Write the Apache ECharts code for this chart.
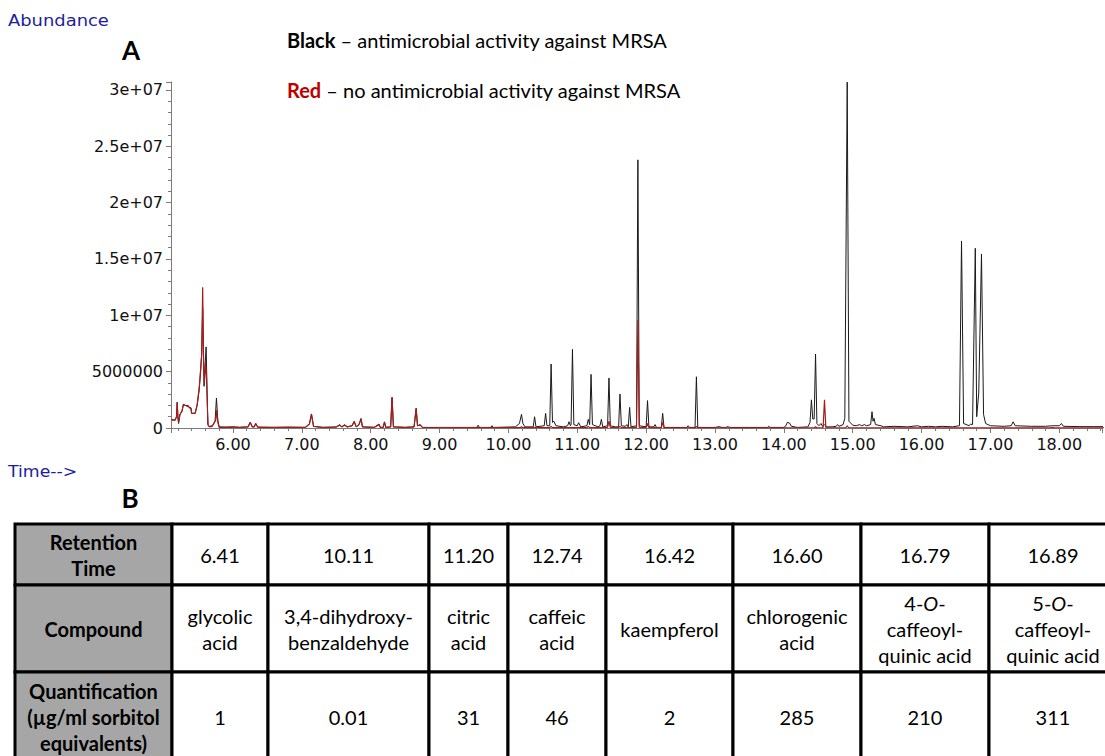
<!DOCTYPE html>
<html><head><meta charset="utf-8">
<script src="https://cdn.jsdelivr.net/npm/echarts@6/dist/echarts.min.js"></script>
<style>html,body{margin:0;padding:0;background:#fff;}#c{width:1105px;height:756px;}</style>
</head><body><div id="c"></div>
<script>
// ---- chromatogram data: [retention time (min), abundance] ----
const blackTrace = [
[5.11,0.75e6],[5.16,0.7e6],[5.18,1.0e6],[5.19,2.3e6],[5.20,1.0e6],[5.21,0.4e6],[5.23,1.2e6],[5.26,1.5e6],[5.28,2.1e6],[5.31,2.0e6],[5.35,2.0e6],[5.37,1.8e6],[5.39,1.8e6],[5.40,1.3e6],[5.45,1.3e6],[5.48,2.0e6],[5.51,3.4e6],[5.53,5.0e6],[5.545,6.6e6],[5.56,10.6e6],[5.57,7.0e6],[5.58,3.7e6],[5.595,5.5e6],[5.61,7.2e6],[5.62,4.5e6],[5.635,0.3e6],[5.66,0.15e6],[5.70,0.2e6],[5.72,0.4e6],[5.74,0.6e6],[5.76,2.65e6],[5.78,0.7e6],[5.80,0.1e6],
[5.9,0.08e6],[6.0,0.1e6],[6.1,0.05e6],[6.22,0.1e6],[6.25,0.5e6],[6.28,0.1e6],[6.31,0.1e6],[6.33,0.4e6],[6.36,0.08e6],[6.6,0.05e6],[6.8,0.08e6],[7.05,0.05e6],[7.11,0.35e6],[7.14,1.25e6],[7.17,0.15e6],[7.3,0.05e6],[7.5,0.1e6],[7.55,0.3e6],[7.58,0.1e6],[7.62,0.3e6],[7.66,0.1e6],[7.73,0.2e6],[7.76,0.6e6],[7.79,0.1e6],[7.83,0.3e6],[7.86,0.85e6],[7.88,0.1e6],[8.05,0.05e6],[8.12,0.35e6],[8.14,0.05e6],[8.18,0.05e6],[8.20,0.55e6],[8.22,0.05e6],[8.29,0.1e6],[8.31,2.7e6],[8.33,0.1e6],[8.5,0.05e6],[8.63,0.1e6],[8.66,1.75e6],[8.68,0.2e6],[8.72,0.3e6],[8.75,0.05e6],[9.2,0.05e6],[9.54,0.05e6],[9.56,0.25e6],[9.58,0.05e6],[9.74,0.05e6],[9.76,0.2e6],[9.78,0.05e6],
[10.1,0.1e6],[10.16,0.4e6],[10.19,1.21e6],[10.21,0.4e6],[10.24,0.1e6],[10.36,0.1e6],[10.38,1.0e6],[10.40,0.1e6],[10.52,0.2e6],[10.54,1.3e6],[10.56,0.2e6],[10.60,0.2e6],[10.62,5.68e6],[10.64,0.5e6],[10.66,0.6e6],[10.69,0.2e6],[10.8,0.1e6],[10.86,0.2e6],[10.88,0.56e6],[10.90,0.2e6],[10.91,0.3e6],[10.93,6.98e6],[10.95,0.3e6],[11.0,0.2e6],[11.02,0.47e6],[11.05,0.1e6],[11.14,0.2e6],[11.16,0.77e6],[11.18,0.3e6],[11.20,4.76e6],[11.22,0.3e6],[11.3,0.1e6],[11.33,0.2e6],[11.35,0.77e6],[11.37,0.1e6],[11.44,0.2e6],[11.46,4.44e6],[11.48,0.2e6],[11.55,0.1e6],[11.60,0.1e6],[11.62,3.02e6],[11.64,0.2e6],[11.70,0.15e6],[11.72,0.3e6],[11.74,0.1e6],[11.76,1.83e6],[11.78,0.1e6],[11.86,0.2e6],[11.88,23.8e6],[11.90,0.2e6],[12.0,0.1e6],[12.02,2.43e6],[12.04,0.1e6],[12.11,0.1e6],[12.13,0.3e6],[12.15,0.05e6],[12.22,0.05e6],[12.24,1.3e6],[12.26,0.05e6],[12.5,0.05e6],[12.59,0.05e6],[12.61,0.2e6],[12.63,0.05e6],[12.71,0.05e6],[12.73,4.55e6],[12.75,0.05e6],[13.0,0.05e6],[13.06,0.12e6],[13.1,0.05e6],[13.16,0.05e6],[13.18,0.12e6],[13.22,0.05e6],[13.5,0.05e6],[13.76,0.05e6],[13.78,0.15e6],[13.80,0.05e6],
[14.0,0.05e6],[14.03,0.2e6],[14.05,0.5e6],[14.08,0.45e6],[14.11,0.15e6],[14.2,0.05e6],[14.35,0.1e6],[14.38,0.5e6],[14.40,2.5e6],[14.42,0.8e6],[14.44,0.8e6],[14.46,6.57e6],[14.48,0.4e6],[14.51,0.2e6],[14.54,0.4e6],[14.56,0.15e6],[14.59,0.3e6],[14.62,0.1e6],[14.7,0.1e6],[14.76,0.15e6],[14.78,0.3e6],[14.80,0.15e6],[14.86,0.3e6],[14.885,0.86e6],[14.92,30.7e6],[14.945,0.6e6],[15.0,0.25e6],[15.05,0.2e6],[15.1,0.3e6],[15.13,0.2e6],[15.17,0.3e6],[15.2,0.2e6],[15.26,0.3e6],[15.28,1.45e6],[15.295,0.6e6],[15.31,0.86e6],[15.33,0.3e6],[15.41,0.2e6],[15.45,0.1e6],[15.6,0.15e6],[15.8,0.1e6],[15.94,0.2e6],[16.0,0.1e6],[16.1,0.15e6],[16.2,0.1e6],[16.3,0.15e6],[16.45,0.1e6],[16.55,0.2e6],[16.58,16.6e6],[16.61,0.4e6],[16.69,0.2e6],[16.71,0.35e6],[16.74,0.3e6],[16.78,15.95e6],[16.80,1.0e6],[16.83,3.1e6],[16.87,15.45e6],[16.90,1.2e6],[16.93,0.4e6],[17.0,0.2e6],[17.2,0.15e6],[17.3,0.2e6],[17.33,0.55e6],[17.36,0.2e6],[17.6,0.15e6],[17.8,0.15e6],[17.9,0.2e6],[18.0,0.2e6],[18.03,0.4e6],[18.06,0.15e6],[18.3,0.12e6],[18.5,0.12e6],[18.65,0.12e6]
];
const redTrace = [
[5.11,0.7e6],[5.16,0.7e6],[5.18,1.0e6],[5.19,2.2e6],[5.20,1.0e6],[5.21,0.5e6],[5.23,1.2e6],[5.26,1.5e6],[5.28,2.1e6],[5.31,2.0e6],[5.35,1.9e6],[5.37,1.8e6],[5.39,1.7e6],[5.40,1.3e6],[5.45,1.3e6],[5.48,2.1e6],[5.51,3.6e6],[5.53,5.2e6],[5.545,6.4e6],[5.56,12.5e6],[5.575,5.0e6],[5.585,4.0e6],[5.60,5.8e6],[5.615,4.5e6],[5.63,1.5e6],[5.64,0.2e6],[5.66,0.1e6],[5.70,0.15e6],[5.73,0.5e6],[5.75,0.7e6],[5.765,1.6e6],[5.78,0.5e6],[5.80,0.05e6],
[5.9,0.06e6],[6.0,0.08e6],[6.1,0.05e6],[6.22,0.1e6],[6.25,0.5e6],[6.28,0.1e6],[6.31,0.1e6],[6.33,0.4e6],[6.36,0.06e6],[6.6,0.05e6],[6.8,0.06e6],[7.05,0.05e6],[7.11,0.35e6],[7.14,1.2e6],[7.17,0.15e6],[7.3,0.05e6],[7.5,0.08e6],[7.55,0.25e6],[7.58,0.1e6],[7.62,0.25e6],[7.66,0.1e6],[7.73,0.2e6],[7.76,0.55e6],[7.79,0.1e6],[7.83,0.3e6],[7.86,0.8e6],[7.88,0.1e6],[8.05,0.05e6],[8.12,0.3e6],[8.14,0.05e6],[8.18,0.05e6],[8.20,0.5e6],[8.22,0.05e6],[8.29,0.1e6],[8.31,2.75e6],[8.33,0.1e6],[8.5,0.05e6],[8.63,0.1e6],[8.66,1.75e6],[8.68,0.2e6],[8.72,0.25e6],[8.75,0.05e6],[9.2,0.04e6],[9.8,0.03e6],
[10.1,0.03e6],[10.17,0.03e6],[10.19,0.12e6],[10.21,0.03e6],[10.6,0.03e6],[10.62,0.15e6],[10.64,0.03e6],[11.14,0.03e6],[11.16,0.15e6],[11.18,0.03e6],[11.44,0.05e6],[11.46,0.6e6],[11.48,0.05e6],[11.60,0.03e6],[11.62,0.15e6],[11.64,0.03e6],[11.86,0.05e6],[11.88,9.59e6],[11.90,0.05e6],[12.0,0.03e6],[12.02,0.4e6],[12.04,0.03e6],[12.22,0.03e6],[12.24,0.5e6],[12.26,0.03e6],[12.71,0.02e6],[12.73,0.15e6],[12.75,0.02e6],[13.5,0.01e6],[14.44,0.02e6],[14.46,0.1e6],[14.48,0.02e6],[14.57,0.02e6],[14.59,2.5e6],[14.61,0.02e6],[14.90,0.02e6],[14.92,0.2e6],[14.94,0.02e6],[15.5,0.01e6],[17.0,0.01e6],[17.88,0.01e6],[17.9,0.06e6],[17.92,0.01e6],[18.65,0.01e6]
];
const yTickLabels = ['0', '5000000', '1e+07', '1.5e+07', '2e+07', '2.5e+07', '3e+07'];

// ---- table data ----
const rowHeaders = ['Retention\nTime', 'Compound', 'Quantification\n(µg/ml sorbitol\nequivalents)'];
const retentionTimes = ['6.41', '10.11', '11.20', '12.74', '16.42', '16.60', '16.79', '16.89'];
const compounds = ['glycolic\nacid', '3,4-dihydroxy-\nbenzaldehyde', 'citric\nacid', 'caffeic\nacid', 'kaempferol', 'chlorogenic\nacid', '4-{i|O}-\ncaffeoyl-\nquinic acid', '5-{i|O}-\ncaffeoyl-\nquinic acid'];
const quantification = ['1', '0.01', '31', '46', '2', '285', '210', '311'];

// ---- layout ----
const colEdges = [15, 172, 268, 429, 508, 606, 733, 861, 989, 1117];
const rowEdges = [524, 585, 672, 762];
const tableFont = 'Lato';
const tableFontSize = 20;

const chart = echarts.init(document.getElementById('c'), null, {renderer: 'svg'});

const graphics = [];
const rows = [retentionTimes, compounds, quantification];
for (let r = 0; r < 3; r++) {
  const y0 = rowEdges[r], y1 = rowEdges[r + 1];
  for (let c = 0; c < colEdges.length - 1; c++) {
    const x0 = colEdges[c], x1 = colEdges[c + 1];
    const isHead = c === 0;
    graphics.push({
      type: 'rect', z: 1,
      shape: {x: x0, y: y0, width: x1 - x0, height: y1 - y0},
      style: {fill: isHead ? '#a6a6a6' : '#ffffff', stroke: '#000', lineWidth: 3}
    });
    const txt = isHead ? rowHeaders[r] : rows[r][c - 1];
    graphics.push({
      type: 'text', z: 2,
      x: (x0 + x1) / 2, y: (y0 + y1) / 2,
      style: {
        text: txt, fill: '#000',
        fontFamily: tableFont, fontSize: tableFontSize, fontWeight: isHead ? 'bold' : 'normal',
        lineHeight: 26,
        align: 'center', verticalAlign: 'middle',
        textAlign: 'center', textVerticalAlign: 'middle',
        rich: {i: {fontStyle: 'italic', fontFamily: tableFont, fontSize: tableFontSize, lineHeight: 26, fill: '#000'}}
      }
    });
  }
}
const labelBlue = '#1c1ca0';
graphics.push(
  {type: 'text', x: 8, y: 20, scaleX: 1.12, style: {text: 'Abundance', fill: labelBlue, fontFamily: 'DejaVu Sans', fontSize: 16, align: 'left', verticalAlign: 'middle', textAlign: 'left', textVerticalAlign: 'middle'}},
  {type: 'text', x: 8, y: 472, scaleX: 1.08, style: {text: 'Time-->', fill: labelBlue, fontFamily: 'DejaVu Sans', fontSize: 16, align: 'left', verticalAlign: 'middle', textAlign: 'left', textVerticalAlign: 'middle'}},
  {type: 'text', x: 131, y: 50, style: {text: 'A', fill: '#000', fontFamily: 'Lato', fontWeight: 'bold', fontSize: 26, align: 'center', verticalAlign: 'middle', textAlign: 'center', textVerticalAlign: 'middle'}},
  {type: 'text', x: 130, y: 498, style: {text: 'B', fill: '#000', fontFamily: 'Lato', fontWeight: 'bold', fontSize: 26, align: 'center', verticalAlign: 'middle', textAlign: 'center', textVerticalAlign: 'middle'}},
  {type: 'text', x: 287, y: 40, style: {text: '{b|Black} – antimicrobial activity against MRSA', fill: '#000', fontFamily: 'Lato', fontSize: 20, align: 'left', verticalAlign: 'middle', textAlign: 'left', textVerticalAlign: 'middle',
    rich: {b: {fontWeight: 'bold', fontFamily: 'Lato', fontSize: 20, fill: '#000'}}}},
  {type: 'text', x: 287, y: 90, style: {text: '{r|Red} – no antimicrobial activity against MRSA', fill: '#000', fontFamily: 'Lato', fontSize: 20, align: 'left', verticalAlign: 'middle', textAlign: 'left', textVerticalAlign: 'middle',
    rich: {r: {fontWeight: 'bold', fontFamily: 'Lato', fontSize: 20, fill: '#c00000'}}}}
);

const axisGray = '#7a7a7a';
chart.setOption({
  animation: false,
  backgroundColor: '#fff',
  grid: {left: 171, right: 0, top: 82, bottom: 328, containLabel: false},
  xAxis: {
    type: 'value', min: 5.1, max: 18.62, splitNumber: 13,
    axisLine: {show: true, lineStyle: {color: axisGray, width: 1}},
    axisTick: {show: true, length: 5, lineStyle: {color: axisGray}},
    minorTick: {show: true, splitNumber: 5, length: 3, lineStyle: {color: axisGray}},
    splitLine: {show: false},
    axisLabel: {
      margin: 8, color: '#111', fontFamily: 'DejaVu Sans', fontSize: 16,
      formatter: v => Math.abs(v - Math.round(v)) < 1e-6 ? v.toFixed(2) : ''
    }
  },
  yAxis: {
    type: 'value', min: 0, max: 3.071e7, interval: 5e6,
    axisLine: {show: true, lineStyle: {color: axisGray, width: 1}},
    axisTick: {show: true, length: 5, lineStyle: {color: axisGray}},
    minorTick: {show: true, splitNumber: 5, length: 3, lineStyle: {color: axisGray}},
    splitLine: {show: false},
    axisLabel: {
      margin: 8, color: '#111', fontFamily: 'DejaVu Sans', fontSize: 16,
      formatter: v => {
        const k = v / 5e6;
        return Math.abs(k - Math.round(k)) < 1e-6 ? yTickLabels[Math.round(k)] : '';
      }
    }
  },
  series: [
    {type: 'line', data: blackTrace, showSymbol: false, symbol: 'none', sampling: null,
     lineStyle: {color: '#1a1a1a', width: 1}, z: 2},
    {type: 'line', data: redTrace, showSymbol: false, symbol: 'none', sampling: null,
     lineStyle: {color: '#a51c1c', width: 1.2}, z: 3}
  ],
  graphic: graphics
});
</script></body></html>
